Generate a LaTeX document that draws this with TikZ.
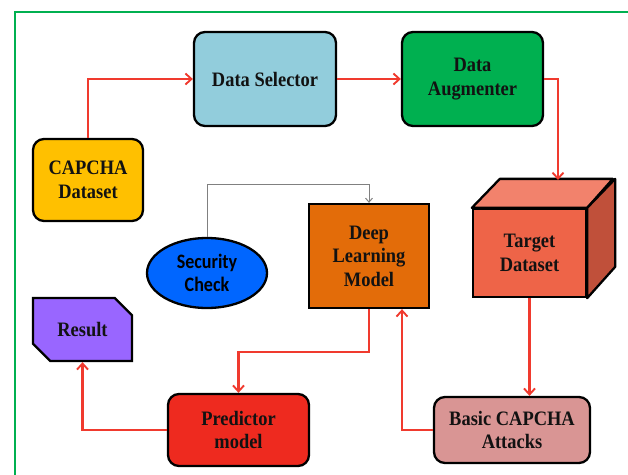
\documentclass[tikz,border=0pt]{standalone}
\usepackage{fontspec}
\setmainfont[FakeStretch=0.9]{Liberation Serif}
\newfontfamily\secfont[FakeStretch=0.88]{Carlito}
\usetikzlibrary{arrows.meta,shapes.geometric,shapes.misc}
\definecolor{bordergreen}{HTML}{00B050}
\definecolor{selblue}{HTML}{92CDDC}
\definecolor{auggreen}{HTML}{00B050}
\definecolor{capyellow}{HTML}{FFC000}
\definecolor{deeporange}{HTML}{E36C09}
\definecolor{secblue}{HTML}{0066FF}
\definecolor{respurple}{HTML}{9966FF}
\definecolor{predred}{HTML}{EE2A1F}
\definecolor{basicpink}{HTML}{D99594}
\definecolor{tgtfront}{HTML}{EE6448}
\definecolor{tgttop}{HTML}{F2826C}
\definecolor{tgtside}{HTML}{C0503A}
\definecolor{arrred}{HTML}{F03A2E}
\definecolor{graylink}{HTML}{808080}
\tikzset{
  lbl/.style={font=\bfseries\fontsize{20.5}{23.5}\selectfont, align=center, text=black!93},
  plainbox/.style={lbl, draw=black, line width=2.3pt, rectangle, inner sep=0pt},
  rbox/.style={plainbox, rounded corners=11pt},
  arr/.style={draw=arrred, line width=2.2pt, -{Straight Barb[length=6pt,width=11pt,line width=1.9pt]}},
  grayarr/.style={draw=graylink, line width=1pt, -{Straight Barb[length=4pt,width=7pt,line width=1pt]}},
}
\begin{document}
\begin{tikzpicture}[x=1pt,y=-1pt]
\useasboundingbox (0,0) rectangle (628,474);
\draw[bordergreen, line width=2.2pt] (15,476) -- (15,12) -- (630,12);

\node[rbox, fill=selblue, minimum width=142, minimum height=94] (sel) at (265,79) {Data Selector};
\node[rbox, fill=auggreen, minimum width=141, minimum height=94] (aug) at (472.5,79) {Data\\Augmenter};
\node[rbox, fill=capyellow, minimum width=110, minimum height=82] (cap) at (88,180) {CAPCHA\\Dataset};
\node[plainbox, fill=deeporange, minimum width=120, minimum height=104] (deep) at (369,256) {Deep\\Learning\\Model};
\node[ellipse, draw=black, line width=2.3pt, fill=secblue, minimum width=120, minimum height=70, inner sep=0pt, align=center, font=\secfont\bfseries\fontsize{20.5}{23}\selectfont] (sec) at (207,273) {Security\\Check};
\node[plainbox, chamfered rectangle, chamfered rectangle xsep=10pt, chamfered rectangle ysep=10pt, chamfered rectangle corners={north east, south west}, fill=respurple, minimum width=99, minimum height=63] (res) at (82.5,329.5) {Result};
\node[rbox, fill=predred, minimum width=141, minimum height=72] (pred) at (238.5,430) {Predictor\\model};
\node[rbox, fill=basicpink, minimum width=156, minimum height=66] (basic) at (512,430) {Basic CAPCHA\\Attacks};

% Target dataset cube
\node[plainbox, fill=tgtfront, minimum width=113, minimum height=88] (tgt) at (529.5,253) {Target\\Dataset};
\filldraw[fill=tgttop, draw=black, line width=2.3pt, line join=round]
  (tgt.north west) -- ++(28,-29) -- ++(113,0) -- (tgt.north east) -- cycle;
\filldraw[fill=tgtside, draw=black, line width=2.3pt, line join=round]
  (tgt.north east) -- ++(28,-29) -- ++(0,88) -- (tgt.south east) -- cycle;
\coordinate (tgtin) at (558,180);

% connectors
\draw[arr] (cap.north) |- (sel.west);
\draw[arr] (sel.east) -- (aug.west);
\draw[arr] (aug.east) -| (tgtin);
\draw[arr] (tgt.south) -- (tgt.south |- basic.north);
\draw[arr] (basic.west) -| ([xshift=33pt]deep.south);
\draw[arr] (deep.south) -- ++(0,43) -| (pred.north);
\draw[arr] (pred.west) -| (res.south);
\draw[grayarr] (sec.north) -- ++(0,-52) -| (deep.north);
\end{tikzpicture}
\end{document}
